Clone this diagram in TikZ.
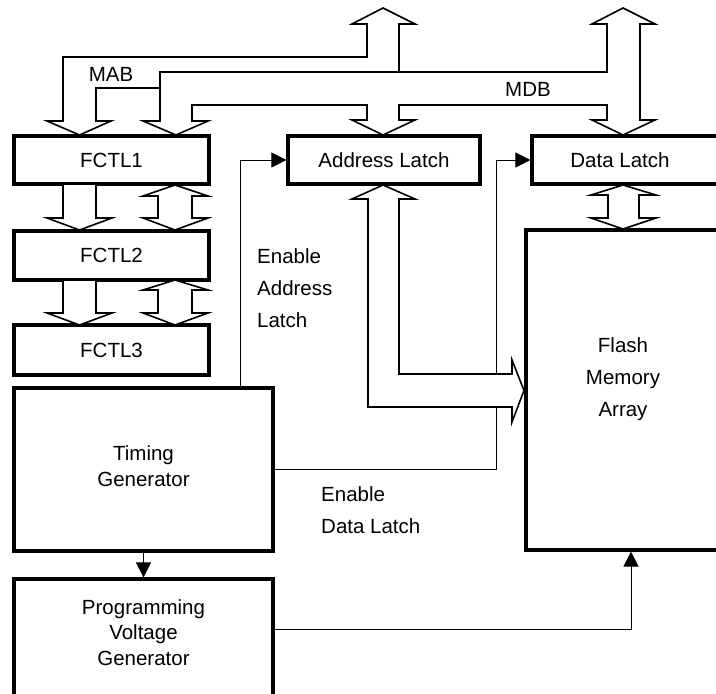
\documentclass[tikz,border=0pt]{standalone}
\usepackage{fontspec}
\setmainfont{Liberation Sans}
\usetikzlibrary{arrows.meta}
\begin{document}
\begin{tikzpicture}[x=1pt,y=-1pt,
  box/.style={draw, line width=3.2pt, rectangle, inner sep=0pt, font=\fontsize{20.5}{25.5}\selectfont, align=center},
  lbl/.style={inner sep=0pt, font=\fontsize{20.5}{32}\selectfont},
  blbl/.style={inner sep=0pt, font=\fontsize{20.5}{25.5}\selectfont, align=center},
  bus/.style={draw, fill=white, line width=1.6pt, line join=miter},
  sig/.style={draw, line width=1pt, -{Triangle[length=15pt,width=15pt]}}
]
\useasboundingbox (0,0) rectangle (716,694);
\clip (0,0) rectangle (716,694);

% blocks
\node[box, minimum width=195pt, minimum height=48pt] (f1) at (111.5,160) {FCTL1};
\node[box, minimum width=195pt, minimum height=49pt] (f2) at (111.5,255.5) {FCTL2};
\node[box, minimum width=195pt, minimum height=50pt] (f3) at (111.5,350) {FCTL3};
\node[box, minimum width=259pt, minimum height=163pt] (tg) at (143.5,469.5) {};
\node[blbl] (tgt) at (143.5,466) {Timing\\Generator};
\node[box, minimum width=259pt, minimum height=121pt] (pvg) at (143.5,639.5) {};
\node[blbl] (pvgt) at (143.5,632.5) {Programming\\Voltage\\Generator};
\node[box, minimum width=192pt, minimum height=48pt] (al) at (384,160) {Address Latch};
\node[box, minimum width=188pt, minimum height=48pt] (dl) at (626,160) {};
\node[lbl] (dlt) at (620,160) {Data Latch};
\node[box, minimum width=194pt, minimum height=320pt] (fm) at (623,390) {};
\node[lbl, align=center] (fmt) at (623,379) {Flash\\Memory\\Array};

% side labels
\node[lbl, align=left, anchor=west] (eal) at (257,288) {Enable\\Address\\Latch};
\node[lbl, align=left, anchor=west] (edlt) at (321,510) {Enable\\Data Latch};

% thin signals
\coordinate (edl) at (496,469.5);
\draw[sig] ([xshift=96.5pt]tg.north) |- (al.west);
\draw[sig] (tg.east) -- (edl) |- (dl.west);
\draw[sig] (tg.south) -- (pvg.north);
\draw[sig] ([yshift=10.5pt]pvg.east) -| ([xshift=8pt]fm.south);

% MAB bus
\draw[bus] (399,24) -- (415,24) -- (383,8) -- (352,24) -- (367,24) -- (367,57)
  -- (63,57) -- (63,121) -- (47,121) -- (79.5,135) -- (111,121) -- (96,121)
  -- (96,88) -- (160,88) -- (160,72) -- (399,72) -- cycle;
% MDB bus
\draw[bus] (160,72) -- (607,72) -- (607,24) -- (592,24) -- (623,8) -- (655,24)
  -- (640,24) -- (640,120) -- (655,120) -- (623,135) -- (592,120) -- (607,120)
  -- (607,105) -- (399,105) -- (399,120) -- (415,120) -- (383,135) -- (352,120)
  -- (367,120) -- (367,105) -- (192,105) -- (192,121) -- (208,121) -- (176,135)
  -- (143,121) -- (160,121) -- cycle;
\node[lbl] (mab) at (111,74) {MAB};
\node[lbl] (mdb) at (528,89) {MDB};

% FCTL1 -> FCTL2
\draw[bus] (63,185) -- (63,218) -- (47,218) -- (79.5,230) -- (112,218) -- (96,218) -- (96,185);
\draw[bus] (175,185) -- (208,196) -- (192,196) -- (192,218) -- (208,218) -- (175,230)
  -- (143,218) -- (158,218) -- (158,196) -- (143,196) -- cycle;
% FCTL2 -> FCTL3
\draw[bus] (63,281) -- (63,313) -- (47,313) -- (79.5,325) -- (112,313) -- (96,313) -- (96,281);
\draw[bus] (175,280) -- (208,290) -- (192,290) -- (192,313) -- (208,313) -- (175,325)
  -- (143,313) -- (158,313) -- (158,290) -- (143,290) -- cycle;

% Address latch <-> Flash
\draw[bus] (383,185) -- (415,199) -- (399,199) -- (399,374) -- (512,374) -- (512,360)
  -- (524,390.5) -- (512,422) -- (512,407) -- (368,407) -- (368,199) -- (352,199) -- cycle;
% Data latch <-> Flash
\draw[bus] (623,185) -- (656,195) -- (639,195) -- (639,218) -- (656,218) -- (623,229)
  -- (591,218) -- (608,218) -- (608,195) -- (591,195) -- cycle;
\end{tikzpicture}
\end{document}
